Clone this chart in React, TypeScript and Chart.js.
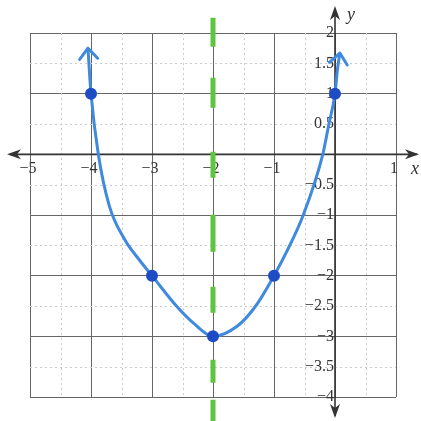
import React, { useEffect, useRef } from "react";
import { Chart, registerables } from "chart.js";

Chart.register(...registerables);

// Axis ranges and labelled ticks
const X_MIN = -5;
const X_MAX = 1;
const Y_MIN = -4;
const Y_MAX = 2;
const xTickLabels = [-5, -4, -3, -2, -1, 1];
const yTickLabels = [2, 1.5, 1, 0.5, -0.5, -1, -1.5, -2, -2.5, -3, -3.5, -4];

// Plotted points of y = (x + 2)^2 - 3
const keyX = [-4, -3, -2, -1, 0];
const keyY = [1, -2, -3, -2, 1];

// Traced path of the sketched parabola, end to end
const curveX = [-4.05, -4, -3.88, -3.7, -3.45, -3.2, -3, -2.6, -2.3, -2, -1.6, -1.3, -1, -0.79, -0.52, -0.2, -0.1, 0, 0.04, 0.08];
const curveY = [1.75, 1, 0, -0.85, -1.4, -1.75, -2, -2.5, -2.8, -3, -2.83, -2.5, -2, -1.6, -1, 0, 0.5, 1, 1.4, 1.67];

// Axis of symmetry x = -2
const symX = [-2, -2];
const symY = [2.25, -4.4];

const CURVE_BLUE = "#3f89df";
const POINT_BLUE = "#1e4cc4";
const SYM_GREEN = "#5cc63c";
const INK = "#333333";
// hand-drawn, uneven dashes of the symmetry line
const SYM_DASH = [29, 31, 30, 44, 26, 37, 37, 35, 26, 47, 23, 17, 40, 20];

const fmt = (v: number) => (v < 0 ? "\u2212" + String(Math.abs(v)) : String(v));

function arrowHead(ctx: CanvasRenderingContext2D, tipX: number, tipY: number, angle: number, len: number, half: number, notch: number) {
  const cos = Math.cos(angle);
  const sin = Math.sin(angle);
  const bx = tipX - cos * len;
  const by = tipY - sin * len;
  const nx = tipX - cos * (len - notch);
  const ny = tipY - sin * (len - notch);
  ctx.beginPath();
  ctx.moveTo(tipX, tipY);
  ctx.lineTo(bx - sin * half, by + cos * half);
  ctx.lineTo(nx, ny);
  ctx.lineTo(bx + sin * half, by - cos * half);
  ctx.closePath();
  ctx.fill();
}

const coordinatePlane = {
  id: "coordinatePlane",
  beforeDatasetsDraw(chart: any) {
    const { ctx, chartArea, scales } = chart;
    const xs = scales.x;
    const ys = scales.y;
    ctx.save();

    // faint dotted half-unit grid
    ctx.strokeStyle = "#cccccc";
    ctx.lineWidth = 1;
    ctx.setLineDash([2, 3]);
    for (let v = X_MIN + 0.5; v < X_MAX; v += 1) {
      const px = Math.round(xs.getPixelForValue(v)) + 0.5;
      ctx.beginPath();
      ctx.moveTo(px, chartArea.top);
      ctx.lineTo(px, chartArea.bottom);
      ctx.stroke();
    }
    for (let v = Y_MIN + 0.5; v < Y_MAX; v += 1) {
      const py = Math.round(ys.getPixelForValue(v)) + 0.5;
      ctx.beginPath();
      ctx.moveTo(chartArea.left, py);
      ctx.lineTo(chartArea.right, py);
      ctx.stroke();
    }
    ctx.setLineDash([]);

    // x and y axes with arrowheads
    const ox = xs.getPixelForValue(0);
    const oy = ys.getPixelForValue(0);
    const w = chart.width;
    const h = chart.height;
    ctx.strokeStyle = INK;
    ctx.fillStyle = INK;
    ctx.lineWidth = 1.6;
    ctx.beginPath();
    ctx.moveTo(10, oy);
    ctx.lineTo(w - 4, oy);
    ctx.moveTo(ox, 9);
    ctx.lineTo(ox, h - 5);
    ctx.stroke();
    arrowHead(ctx, 7, oy, Math.PI, 14, 5, 4);
    arrowHead(ctx, w - 2, oy, 0, 14, 5, 4);
    arrowHead(ctx, ox, 6, -Math.PI / 2, 14, 5, 4);
    arrowHead(ctx, ox, h - 3, Math.PI / 2, 14, 5, 4);

    // tick labels
    ctx.font = "16px 'Liberation Serif', 'Times New Roman', serif";
    ctx.fillStyle = INK;
    ctx.textBaseline = "middle";
    ctx.textAlign = "center";
    xTickLabels.forEach((v) => {
      ctx.fillText(fmt(v), xs.getPixelForValue(v) - 2, oy + 14);
    });
    ctx.textAlign = "right";
    yTickLabels.forEach((v) => {
      ctx.fillText(fmt(v), ox - 1, ys.getPixelForValue(v));
    });

    // axis names
    ctx.font = "italic 18px 'Liberation Serif', 'Times New Roman', serif";
    ctx.textAlign = "center";
    ctx.fillText("x", w - 6, oy + 15);
    ctx.fillText("y", ox + 16, 15);
    ctx.restore();
  },
  afterDatasetsDraw(chart: any) {
    // open arrowheads at both ends of the parabola
    const meta = chart.getDatasetMeta(0);
    const pts = meta.data;
    if (!pts || pts.length < 2) return;
    const { ctx } = chart;
    ctx.save();
    ctx.strokeStyle = CURVE_BLUE;
    ctx.lineWidth = 3;
    ctx.lineCap = "round";
    ctx.lineJoin = "round";
    const ends = [
      [pts[0], pts[1]],
      [pts[pts.length - 1], pts[pts.length - 2]],
    ];
    ends.forEach(([tip, prev]) => {
      const a = Math.atan2(tip.y - prev.y, tip.x - prev.x);
      const len = 14;
      const spread = 0.7;
      ctx.beginPath();
      ctx.moveTo(tip.x - Math.cos(a - spread) * len, tip.y - Math.sin(a - spread) * len);
      ctx.lineTo(tip.x, tip.y);
      ctx.lineTo(tip.x - Math.cos(a + spread) * len, tip.y - Math.sin(a + spread) * len);
      ctx.stroke();
    });
    ctx.restore();
  },
};

export default function App() {
  const canvasRef = useRef<HTMLCanvasElement | null>(null);

  useEffect(() => {
    const canvas = canvasRef.current;
    if (!canvas) return;
    const chart = new Chart(canvas, {
      type: "scatter",
      data: {
        datasets: [
          {
            label: "parabola",
            data: curveX.map((x, i) => ({ x, y: curveY[i] })),
            showLine: true,
            borderColor: CURVE_BLUE,
            borderWidth: 3,
            pointRadius: 0,
            cubicInterpolationMode: "monotone",
            clip: false,
            order: 1,
          },
          {
            label: "axis of symmetry",
            data: symX.map((x, i) => ({ x, y: symY[i] })),
            showLine: true,
            borderColor: SYM_GREEN,
            borderWidth: 5,
            borderDash: SYM_DASH,
            pointRadius: 0,
            clip: false,
            order: 2,
          },
          {
            label: "points",
            data: keyX.map((x, i) => ({ x, y: keyY[i] })),
            showLine: false,
            pointRadius: 6,
            backgroundColor: POINT_BLUE,
            borderColor: POINT_BLUE,
            borderWidth: 0,
            order: 0,
          },
        ],
      },
      options: {
        responsive: false,
        animation: false,
        layout: { padding: { left: 30, right: 25, top: 33, bottom: 24 } },
        plugins: {
          legend: { display: false },
          tooltip: { enabled: false },
        },
        scales: {
          x: {
            type: "linear",
            min: X_MIN,
            max: X_MAX,
            ticks: { display: false, stepSize: 1 },
            grid: { color: "#666666", lineWidth: 1, drawTicks: false },
            border: { display: false },
          },
          y: {
            type: "linear",
            min: Y_MIN,
            max: Y_MAX,
            ticks: { display: false, stepSize: 1 },
            grid: { color: "#666666", lineWidth: 1, drawTicks: false },
            border: { display: false },
          },
        },
      },
      plugins: [coordinatePlane],
    });
    return () => chart.destroy();
  }, []);

  return (
    <div style={{ position: "absolute", left: 0, top: 0, width: 421, height: 421, background: "#ffffff" }}>
      <canvas ref={canvasRef} width={421} height={421} />
    </div>
  );
}
